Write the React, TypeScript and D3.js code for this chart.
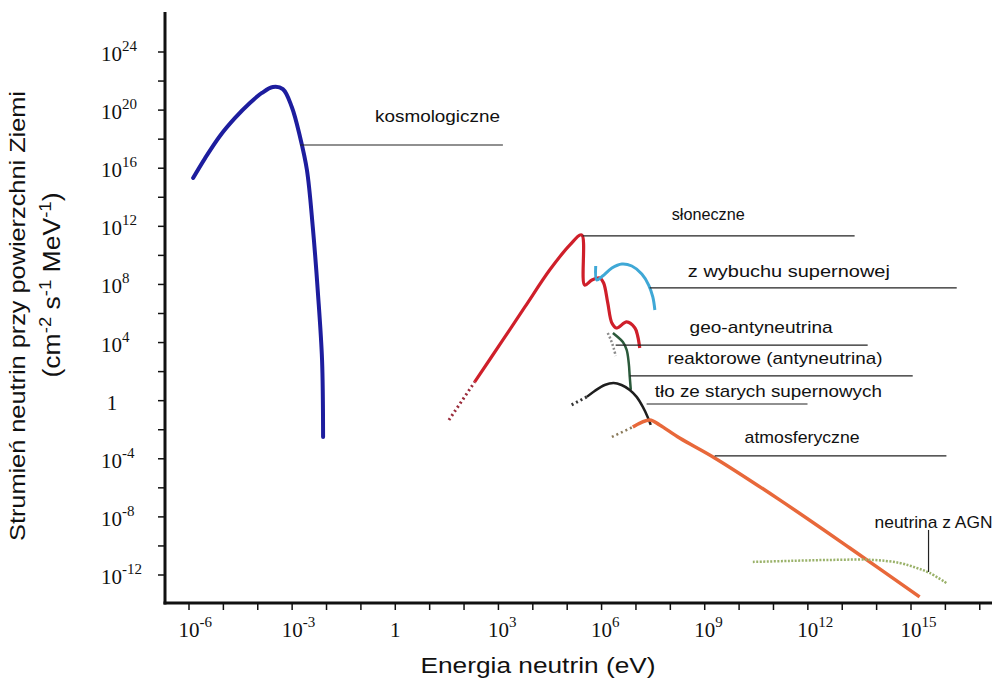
import React from "react";
import * as d3 from "d3";

// Data as [log10(E / eV), log10(flux)]
const cosmological: [number, number][] = [
  [-5.88, 15.33], [-5.53, 16.7], [-5.1, 18.22], [-4.66, 19.46], [-4.23, 20.49],
  [-3.88, 21.18], [-3.56, 21.59], [-3.27, 21.45], [-3.01, 20.21], [-2.77, 18.15],
  [-2.57, 15.88], [-2.4, 11.96], [-2.25, 7.41], [-2.13, 2.8], [-2.1, -2.5],
];
const solarDotted: [number, number][] = [[1.56, -1.33], [2.31, 1.29]];
const solar: [number, number][] = [
  [2.31, 1.29], [3.13, 4.18], [3.77, 6.45], [4.49, 8.99], [5.08, 10.72], [5.42, 11.41],
  [5.51, 7.96], [5.72, 8.31], [5.95, 8.45], [6.06, 8.1], [6.18, 6.73], [6.3, 5.35],
  [6.44, 5.0], [6.73, 5.42], [6.97, 5.0], [7.05, 4.45], [7.11, 3.63],
];
const supernova: [number, number][] = [
  [5.83, 9.27], [5.86, 8.31], [6.03, 8.58], [6.3, 9.13], [6.59, 9.41], [6.88, 9.27],
  [7.17, 8.72], [7.37, 7.96], [7.49, 7.14], [7.55, 6.24],
];
const geo: [number, number][] = [[6.18, 4.66], [6.27, 4.18], [6.35, 3.63], [6.41, 3.08]];
const reactor: [number, number][] = [
  [6.33, 4.66], [6.47, 4.38], [6.62, 4.04], [6.73, 3.49], [6.79, 2.6], [6.82, 1.63], [6.85, 0.74],
];
const relicDotted: [number, number][] = [[5.13, -0.29], [5.57, 0.26]];
const relic: [number, number][] = [
  [5.57, 0.26], [5.8, 0.67], [6.09, 1.08], [6.35, 1.22], [6.58, 1.08], [6.82, 0.74],
  [7.02, 0.26], [7.2, -0.43], [7.34, -1.12], [7.43, -1.67],
];
const atmoDotted: [number, number][] = [[6.3, -2.5], [6.91, -1.81]];
const atmospheric: [number, number][] = [
  [6.91, -1.81], [7.4, -1.33], [7.69, -1.67], [8.27, -2.57], [9.29, -3.94],
  [11.18, -6.83], [13.22, -10.14], [15.25, -13.51],
];
const agn: [number, number][] = [
  [10.4, -11.1], [11.47, -11.03], [12.72, -10.96], [13.88, -10.96], [14.67, -11.17],
  [15.16, -11.51], [15.54, -11.86], [16.03, -12.55],
];

// Annotations: label text, text start (logE, logF), leader line (logE start, logF, logE end)
const labelNames = [
  "kosmologiczne", "słoneczne", "z wybuchu supernowej", "geo-antyneutrina",
  "reaktorowe (antyneutrina)", "tło ze starych supernowych", "atmosferyczne",
];
const labelTextX = [-0.59, 8.04, 8.51, 8.56, 7.92, 7.55, 10.16];
const labelTextY = [19.18, 12.44, 8.51, 4.66, 2.53, 0.26, -2.91];
const labelWidths = [125, 73, 202, 143, 215, 227, 115];
const leaderX0 = [-2.77, 5.45, 7.4, 6.41, 6.82, 7.31, 9.29];
const leaderX1 = [3.13, 13.36, 16.33, 13.74, 15.05, 11.99, 16.03];
const leaderY = [17.6, 11.34, 7.76, 3.83, 1.7, -0.23, -3.8];
const agnLabel = "neutrina z AGN";
const agnLabelPos: [number, number] = [13.94, -8.76];
const agnLeader: [number, number, number] = [15.51, -8.9, -11.79];

const xTickExps = d3.range(-6, 18, 1);
const xLabelExps = [-6, -3, 0, 3, 6, 9, 12, 15];
const yTickExps = d3.range(-12, 25, 2);
const yLabelExps = [24, 20, 16, 12, 8, 4, 0, -4, -8, -12];

const W = 1002;
const H = 680;

export default function App() {
  const x = d3.scaleLog().domain([1e-6, 1e15]).range([189, 911]);
  const y = d3.scaleLog().domain([1e24, 1e-12]).range([52, 575]);
  const X = (e: number) => x(Math.pow(10, e));
  const Y = (e: number) => y(Math.pow(10, e));
  const axisLeft = 165, axisBottom = 603, axisTop = 12, axisRight = 992;

  const line = (curve: d3.CurveFactory = d3.curveCatmullRom.alpha(0.5)) =>
    d3.line<[number, number]>().x((d) => X(d[0])).y((d) => Y(d[1])).curve(curve);
  const smooth = line();
  const lin = line(d3.curveLinear);

  const serif = "'Liberation Serif', 'Times New Roman', serif";
  const sans = "'Liberation Sans', Arial, sans-serif";

  return (
    <svg width={W} height={H} style={{ position: "absolute", left: 0, top: 0, background: "#fff" }}
      xmlns="http://www.w3.org/2000/svg">
      <rect x={0} y={0} width={W} height={H} fill="#fff" />
      {/* curves */}
      <path d={smooth(cosmological)!} fill="none" stroke="#1d1d9e" strokeWidth={4} strokeLinecap="round" />
      <path d={lin(solarDotted)!} fill="none" stroke="#9a2a3a" strokeWidth={3} strokeDasharray="2,3" />
      <path d={smooth(solar)!} fill="none" stroke="#cf1f2a" strokeWidth={3.2} strokeLinejoin="round" />
      <path d={smooth(supernova)!} fill="none" stroke="#3fa8d6" strokeWidth={3} />
      <path d={smooth(geo)!} fill="none" stroke="#8a8a8a" strokeWidth={2.5} strokeDasharray="2,2" />
      <path d={smooth(reactor)!} fill="none" stroke="#2b5a3b" strokeWidth={2.5} />
      <path d={lin(relicDotted)!} fill="none" stroke="#333" strokeWidth={3} strokeDasharray="2,3" />
      <path d={smooth(relic)!} fill="none" stroke="#1e1e1e" strokeWidth={2.5} />
      <path d={lin(atmoDotted)!} fill="none" stroke="#8a7a5a" strokeWidth={2.5} strokeDasharray="2,3" />
      <path d={smooth(atmospheric)!} fill="none" stroke="#e8683a" strokeWidth={3.5} />
      <path d={smooth(agn)!} fill="none" stroke="#9ab26a" strokeWidth={2.5} strokeDasharray="2,1.5" />

      {/* leader lines and labels */}
      {labelNames.map((name, i) => (
        <g key={name}>
          <line x1={X(leaderX0[i])} x2={X(leaderX1[i])} y1={Y(leaderY[i])} y2={Y(leaderY[i])}
            stroke="#222" strokeWidth={1.2} />
          <text x={X(labelTextX[i])} y={Y(labelTextY[i])} fontFamily={sans} fontSize={17}
            textLength={labelWidths[i]} lengthAdjust="spacingAndGlyphs" fill="#111">{name}</text>
        </g>
      ))}
      <line x1={X(agnLeader[0])} x2={X(agnLeader[0])} y1={Y(agnLeader[1])} y2={Y(agnLeader[2])}
        stroke="#222" strokeWidth={1.2} />
      <text x={X(agnLabelPos[0])} y={Y(agnLabelPos[1])} fontFamily={sans} fontSize={17}
        textLength={118} lengthAdjust="spacingAndGlyphs" fill="#111">{agnLabel}</text>

      {/* axes */}
      <line x1={axisLeft} x2={axisLeft} y1={axisTop} y2={axisBottom + 1.5} stroke="#111" strokeWidth={3} />
      <line x1={axisLeft - 1.5} x2={axisRight} y1={axisBottom} y2={axisBottom} stroke="#111" strokeWidth={3} />
      {yTickExps.map((e) => (
        <line key={"yt" + e} x1={axisLeft - 7} x2={axisLeft} y1={Y(e)} y2={Y(e)} stroke="#111" strokeWidth={1.5} />
      ))}
      {xTickExps.map((e) => (
        <line key={"xt" + e} x1={X(e)} x2={X(e)} y1={axisBottom} y2={axisBottom + 7} stroke="#111" strokeWidth={1.5} />
      ))}
      {yLabelExps.map((e) =>
        e === 0 ? (
          <text key={"yl" + e} x={112} y={Y(e) + 9} textAnchor="middle" fontFamily={serif} fontSize={21} fill="#111">1</text>
        ) : (
          <text key={"yl" + e} x={101} y={Y(e) + 9} fontFamily={serif} fontSize={21} fill="#111">
            10<tspan dy={-10} fontSize={15}>{e}</tspan>
          </text>
        )
      )}
      {xLabelExps.map((e) =>
        e === 0 ? (
          <text key={"xl" + e} x={X(e)} y={637} textAnchor="middle" fontFamily={serif} fontSize={21} fill="#111">1</text>
        ) : (
          <text key={"xl" + e} x={X(e) - 10.5} y={637} fontFamily={serif} fontSize={21} fill="#111">
            10<tspan dy={-10} fontSize={15}>{e}</tspan>
          </text>
        )
      )}

      {/* axis titles */}
      <text x={538} y={673} textAnchor="middle" fontFamily={sans} fontSize={22} fill="#111"
        textLength={235} lengthAdjust="spacingAndGlyphs">Energia neutrin (eV)</text>
      <text transform="translate(25,316) rotate(-90)" textAnchor="middle" fontFamily={sans} fontSize={22}
        fill="#111" textLength={450} lengthAdjust="spacingAndGlyphs">Strumień neutrin przy powierzchni Ziemi</text>
      <text transform="translate(60,285) rotate(-90)" textAnchor="middle" fontFamily={sans} fontSize={23} fill="#111"
        textLength={185} lengthAdjust="spacingAndGlyphs">
        (cm<tspan dy={-9} fontSize={16}>-2</tspan><tspan dy={9}> s</tspan><tspan dy={-9} fontSize={16}>-1</tspan>
        <tspan dy={9}> MeV</tspan><tspan dy={-9} fontSize={16}>-1</tspan><tspan dy={9}>)</tspan>
      </text>
    </svg>
  );
}
